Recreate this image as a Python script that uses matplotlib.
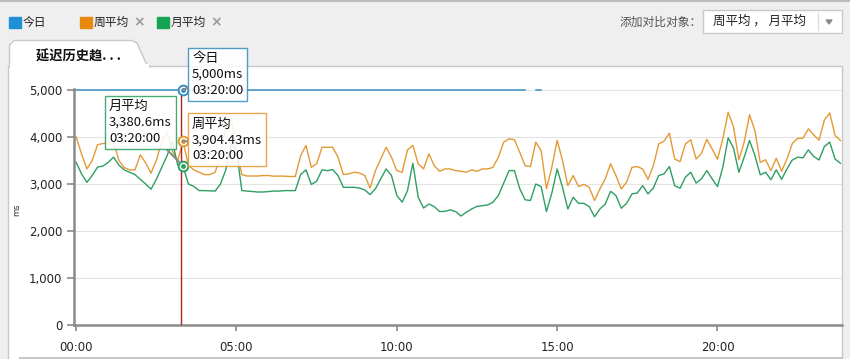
import numpy as np
import matplotlib
matplotlib.use('Agg')
import matplotlib.pyplot as plt
from matplotlib.patches import Rectangle, Polygon
from matplotlib.ticker import FuncFormatter

plt.rcParams['font.family'] = ['Noto Sans CJK SC', 'DejaVu Sans']

##################
# data (10 minute samples, 00:00 .. 23:50)
##################
minutes = np.arange(0, 1440, 10)

today = [5000] * 85 + [None] + [5000] * 2 + [None] * 56

week_avg = [
    4000, 3640, 3320, 3500, 3835, 3860, 3870, 3900, 3500, 3350, 3300, 3300,
    3620, 3450, 3230, 3500, 3900, 4100, 3700, 3500, 3904.43, 3400,
    3300, 3250, 3200, 3200, 3250, 3600, 4200, 4400, 3700, 3200,
    3170, 3170, 3170, 3180, 3180, 3165, 3170, 3165, 3160, 3160,
    3600, 3820, 3355, 3430, 3780, 3780, 3780, 3570, 3200, 3215,
    3250, 3235, 3180, 2915, 3285, 3530, 3780, 3570, 3285, 3250,
    3725, 3820, 3430, 3320, 3640, 3390, 3270, 3320, 3320, 3285,
    3270, 3250, 3300, 3270, 3320, 3320, 3355, 3570, 3890, 3960,
    3940, 3675, 3390, 3370, 3890, 3710, 2900, 3355, 3925, 3500,
    2965, 3180, 2945, 2990, 2930, 2650,
    2895, 3110, 3430, 3180, 2895, 3040, 3355, 3370, 3320, 3095,
    3390, 3850, 3910, 4080, 3530, 3475, 3850, 3940, 3530, 3650,
    3950, 3745, 3525, 3960, 4525, 4210, 3515, 3890, 4470, 4135,
    3460, 3515, 3285, 3545, 3270, 3530, 3860, 3970, 3970, 4170,
    4045, 3930, 4360, 4510, 4030, 3925,
]

month_avg = [
    3460, 3215, 3035, 3180, 3360, 3380, 3460, 3570, 3400, 3300, 3250, 3200,
    3100, 3000, 2890, 3100, 3350, 3600, 3900, 3400, 3380.6, 3000,
    2950, 2860, 2860, 2855, 2850, 3000, 3300, 3850, 3700, 2860,
    2850, 2840, 2830, 2830, 2840, 2850, 2850, 2860, 2860, 2860,
    3200, 3300, 2990, 3060, 3300, 3285, 3305, 3180, 2930, 2930,
    2930, 2915, 2875, 2775, 2900, 3110, 3320, 3180, 2755, 2615,
    2860, 3440, 2720, 2490, 2575, 2520, 2415, 2420, 2450, 2415,
    2320, 2400, 2470, 2525, 2540, 2555, 2615, 2755, 3020, 3285,
    3285, 2900, 2665, 2650, 3000, 2945, 2415, 2805, 3320, 2930,
    2470, 2720, 2590, 2590, 2520, 2305,
    2470, 2575, 2845, 2755, 2485, 2590, 2790, 2810, 2965, 2790,
    2915, 3180, 3215, 3370, 2965, 2910, 3145, 3250, 3020, 3110,
    3285, 3110, 2945, 3355, 3980, 3765, 3250, 3570, 3925, 3605,
    3195, 3250, 3090, 3300, 3100, 3320, 3510, 3570, 3555, 3725,
    3585, 3510, 3795, 3890, 3530, 3440,
]

series_names = ['今日', '周平均', '月平均']
series_colors = ['#3a8fc0', '#e39a35', '#2f9e62']
legend_colors = ['#1f8fd6', '#e8890d', '#16a352']
x_ticks = [0, 300, 600, 900, 1200]
x_labels = ['00:00', '05:00', '10:00', '15:00', '20:00']
cursor_idx = 20   # 03:20:00

today = np.array(today, dtype=float)
week_avg = np.array(week_avg, dtype=float)
month_avg = np.array(month_avg, dtype=float)

##################
# page background (pixel coords)
##################
W, H = 850, 359
fig = plt.figure(figsize=(W / 100, H / 100), dpi=100)
fig.patch.set_facecolor('#efefef')

bg = fig.add_axes([0, 0, 1, 1], zorder=0)
bg.set_xlim(0, W)
bg.set_ylim(H, 0)
bg.axis('off')

bg.plot([0, W], [0.5, 0.5], color='#bdbdbd', lw=1.5)

# legend row
lx = [9, 80, 157]
for i, name in enumerate(series_names):
    bg.add_patch(Rectangle((lx[i], 16.5), 12, 11, color=legend_colors[i]))
    bg.text(lx[i] + 14, 22, name, fontsize=8.5, va='center', ha='left', color='#222222')
    if i > 0:
        bg.text(lx[i] + 53, 22.5, '×', fontsize=10, va='center', ha='left',
                color='#9a9a9a', family='DejaVu Sans', fontweight='bold')

bg.text(702, 22.5, '添加对比对象：', fontsize=8.5, va='center', ha='right', color='#555555')
bg.add_patch(Rectangle((703, 10), 139, 23, facecolor='white', edgecolor='#c9c9c9', lw=1))
bg.plot([818, 818], [13, 30], color='#dddddd', lw=1)
bg.add_patch(Polygon([[826, 20], [832, 20], [829, 24]], color='#8a8a8a'))
bg.text(713, 21.5, '周平均 ， 月平均', fontsize=9, va='center', ha='left', color='#222222')

# chart panel + tab
bg.add_patch(Rectangle((8.5, 66), 833.5, 300, facecolor='white', edgecolor='#c8c8c8', lw=1))
tab = Polygon([[9.5, 67], [9.5, 45], [14, 40.5], [132, 40.5], [137, 43],
               [146, 63], [150, 66.5], [150, 67]],
              closed=True, facecolor='white', edgecolor='#c8c8c8', lw=1)
bg.add_patch(tab)
bg.add_patch(Rectangle((10, 64), 139, 5, color='white', lw=0))
bg.text(36, 57, '延迟历史趋. . .', fontsize=9.5, fontweight='bold', va='center', ha='left',
        color='#111111')
bg.plot([20, 842], [357.5, 357.5], color='#c8c8c8', lw=1.5)
bg.text(17, 210, 'ms', fontsize=6, rotation=90, va='center', ha='center',
        color='#333333', family='DejaVu Sans')

##################
# chart
##################
left, right, top, bottom = 73.5, 842, 88.5, 325.3
ax = fig.add_axes([left / W, 1 - bottom / H, (right - left) / W, (bottom - top) / H], zorder=1)
ax.set_facecolor('none')
ax.set_xlim(-5, 1433)
ax.set_ylim(0, 5028)

for v in range(1000, 6000, 1000):
    ax.axhline(v, color='#e4e4e4', lw=0.8, zorder=0)

ax.plot(minutes, today, color=series_colors[0], lw=1.1, zorder=3)
ax.plot(minutes, week_avg, color=series_colors[1], lw=1.0, zorder=2)
ax.plot(minutes, month_avg, color=series_colors[2], lw=1.0, zorder=2)

cx = minutes[cursor_idx]
ax.axvline(cx - 3, color='#b3201f', lw=1.0, zorder=4)

for vals, c in zip([today, week_avg, month_avg], series_colors):
    ax.plot(cx, vals[cursor_idx], 'o', ms=7, mfc='white', mec=c, mew=1.4, zorder=6, clip_on=False)
    ax.plot(cx, vals[cursor_idx], 'o', ms=2.5, color=c, zorder=7, clip_on=False)


def fmt_ms(v):
    return f"{v:,.2f}".rstrip('0').rstrip('.') + 'ms'


stamp = f"{cx // 60:02d}:{cx % 60:02d}:00"
tips = [(today, (9, 38), 'left'), (week_avg, (9, 24), 'left'), (month_avg, (-74, 66), 'left')]
for (vals, off, ha), name, c in zip(tips, series_names, series_colors):
    ax.annotate(f"{name}\n{fmt_ms(vals[cursor_idx])}\n{stamp}",
                xy=(cx, vals[cursor_idx]), xytext=off, textcoords='offset pixels',
                ha=ha, va='top', fontsize=9.5, linespacing=1.3, color='#111111',
                bbox=dict(boxstyle='square,pad=0.3', facecolor='white', alpha=0.88,
                          edgecolor=c, lw=1.0),
                arrowprops=dict(arrowstyle='-', color='#8c8c8c', lw=1.5,
                                shrinkA=0, shrinkB=4),
                zorder=8, annotation_clip=False)

for s in ['top', 'right']:
    ax.spines[s].set_visible(False)
for s in ['left', 'bottom']:
    ax.spines[s].set_color('#8a8a8a')
    ax.spines[s].set_linewidth(1.8)

ax.set_yticks(range(0, 6000, 1000))
ax.yaxis.set_major_formatter(FuncFormatter(lambda v, p: f"{int(v):,}"))
ax.set_xticks(x_ticks)
ax.set_xticklabels(x_labels)
ax.tick_params(axis='y', length=5, width=1.2, color='#8a8a8a', pad=3, labelsize=8.5,
               labelcolor='#222222')
ax.tick_params(axis='x', length=4, width=1.2, color='#8a8a8a', pad=7, labelsize=8.5,
               labelcolor='#222222')
for lab in ax.get_xticklabels() + ax.get_yticklabels():
    lab.set_family('DejaVu Sans')

fig.savefig('out.png', dpi=100, facecolor=fig.get_facecolor())
